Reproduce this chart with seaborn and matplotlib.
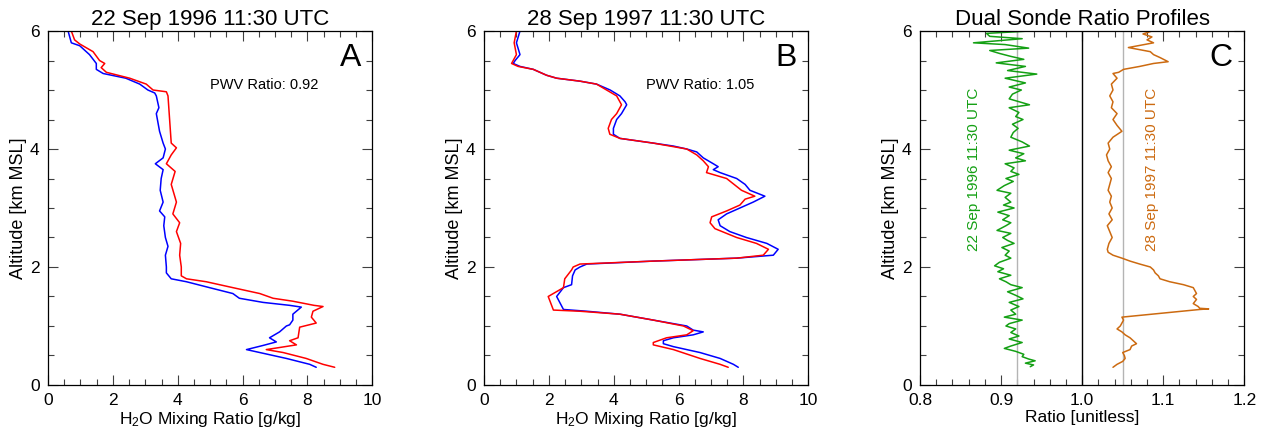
import numpy as np
import pandas as pd
import matplotlib
matplotlib.use('Agg')
import matplotlib.pyplot as plt
from matplotlib.ticker import MultipleLocator, FormatStrFormatter
import seaborn as sns

# ---- data ----
# Panel A: 22 Sep 1996
a_blue_alt = [6.00, 5.80, 5.75, 5.60, 5.45, 5.35, 5.28, 5.20, 5.10, 5.00, 4.95, 4.90, 4.70, 4.60,
              4.30, 4.10, 4.00, 3.85, 3.75, 3.65, 3.50, 3.30, 3.10, 2.95, 2.85, 2.70, 2.50, 2.35,
              2.20, 2.00, 1.90, 1.80, 1.75, 1.65, 1.55, 1.47, 1.40, 1.35, 1.32, 1.20, 1.10, 1.02,
              1.00, 0.90, 0.80, 0.73, 0.67, 0.60, 0.55, 0.45, 0.35, 0.30]
a_blue_h2o = [0.62, 0.72, 0.98, 1.28, 1.49, 1.49, 1.70, 2.40, 2.83, 3.08, 3.29, 3.34, 3.42, 3.34,
              3.44, 3.55, 3.62, 3.55, 3.31, 3.55, 3.49, 3.46, 3.55, 3.44, 3.60, 3.57, 3.62, 3.70,
              3.62, 3.65, 3.65, 3.80, 4.27, 4.98, 5.70, 5.90, 6.63, 7.45, 7.81, 7.55, 7.55, 7.45,
              7.35, 7.14, 6.83, 7.04, 6.63, 6.12, 6.53, 7.35, 8.07, 8.27]
a_red_alt = [6.00, 5.85, 5.78, 5.65, 5.50, 5.45, 5.38, 5.30, 5.20, 5.10, 5.00, 4.97, 4.90, 4.50,
             4.10, 4.02, 3.90, 3.75, 3.62, 3.40, 3.10, 2.90, 2.75, 2.60, 2.40, 2.20, 2.00, 1.85,
             1.80, 1.75, 1.65, 1.55, 1.47, 1.42, 1.35, 1.33, 1.25, 1.15, 1.05, 0.98, 0.80, 0.75,
             0.68, 0.60, 0.55, 0.45, 0.35, 0.30]
a_red_h2o = [0.72, 0.82, 0.98, 1.39, 1.59, 1.75, 1.64, 1.80, 2.52, 3.03, 3.24, 3.65, 3.70, 3.75,
             3.80, 3.96, 3.80, 3.65, 3.92, 3.80, 3.96, 3.85, 4.06, 3.96, 4.09, 4.06, 4.11, 4.11,
             4.27, 4.88, 5.70, 6.53, 6.94, 7.55, 8.20, 8.48, 8.17, 8.12, 8.27, 7.76, 7.71, 7.45,
             7.66, 6.73, 7.25, 7.96, 8.48, 8.84]

# Panel B: 28 Sep 1997
b_blue_alt = [6.00, 5.80, 5.60, 5.50, 5.45, 5.40, 5.35, 5.25, 5.20, 5.15, 5.10, 5.05, 5.00, 4.90,
              4.80, 4.75, 4.60, 4.50, 4.35, 4.25, 4.18, 4.10, 4.05, 4.00, 3.95, 3.85, 3.75, 3.70,
              3.65, 3.60, 3.50, 3.40, 3.30, 3.20, 3.10, 3.00, 2.90, 2.80, 2.70, 2.60, 2.50, 2.40,
              2.30, 2.20, 2.15, 2.10, 2.05, 2.00, 1.95, 1.85, 1.70, 1.65, 1.50, 1.28, 1.25, 1.20,
              1.10, 1.00, 0.93, 0.90, 0.85, 0.80, 0.75, 0.70, 0.65, 0.55, 0.45, 0.35, 0.30]
b_blue_h2o = [1.11, 1.00, 1.11, 0.96, 0.90, 1.11, 1.52, 1.93, 2.24, 2.96, 3.47, 3.68, 3.89, 4.19,
              4.35, 4.40, 4.24, 4.09, 3.99, 3.99, 4.19, 5.22, 5.84, 6.25, 6.56, 6.76, 7.07, 7.22,
              7.07, 7.28, 7.79, 8.05, 8.20, 8.66, 8.30, 7.89, 7.48, 7.22, 7.28, 7.58, 8.09, 8.72,
              9.07, 8.92, 7.79, 5.22, 3.17, 2.96, 2.81, 2.73, 2.70, 2.45, 2.24, 2.45, 3.17, 4.19,
              5.22, 6.25, 6.45, 6.76, 6.45, 5.84, 5.53, 5.53, 5.84, 6.66, 7.28, 7.69, 7.84]
b_red_alt = [6.00, 5.80, 5.60, 5.45, 5.40, 5.35, 5.25, 5.20, 5.15, 5.10, 5.00, 4.90, 4.75, 4.60,
             4.50, 4.35, 4.25, 4.18, 4.10, 4.00, 3.90, 3.80, 3.70, 3.60, 3.50, 3.30, 3.20, 3.15,
             3.05, 2.95, 2.85, 2.75, 2.65, 2.50, 2.40, 2.30, 2.20, 2.15, 2.10, 2.05, 2.00, 1.95,
             1.80, 1.65, 1.50, 1.27, 1.25, 1.20, 1.10, 1.00, 0.92, 0.85, 0.80, 0.72, 0.68, 0.60,
             0.45, 0.35, 0.30]
b_red_h2o = [1.00, 0.93, 1.00, 0.85, 1.05, 1.52, 1.93, 2.24, 2.96, 3.47, 3.78, 4.09, 4.24, 4.09,
             3.93, 3.83, 3.88, 4.19, 5.22, 6.25, 6.56, 6.76, 6.92, 6.86, 7.48, 7.94, 8.35, 8.05,
             7.89, 7.48, 7.02, 6.97, 7.12, 7.79, 8.40, 8.77, 8.61, 7.79, 5.22, 2.96, 2.75, 2.70,
             2.49, 2.45, 1.98, 2.14, 2.96, 4.19, 5.22, 6.15, 6.45, 6.25, 5.63, 5.22, 5.22, 5.84,
             6.66, 7.28, 7.53]

# Panel C: ratio profiles
c_green_alt = [6.00, 5.96, 5.91, 5.87, 5.80, 5.77, 5.71, 5.67, 5.62, 5.57, 5.52, 5.46, 5.40, 5.33,
               5.27, 5.20, 5.12, 5.05, 5.00, 4.93, 4.85, 4.75, 4.70, 4.62, 4.55, 4.50, 4.42, 4.35,
               4.28, 4.20, 4.12, 4.05, 3.98, 3.92, 3.85, 3.80, 3.75, 3.68, 3.62, 3.57, 3.50, 3.45,
               3.38, 3.30, 3.25, 3.18, 3.10, 3.05, 3.00, 2.93, 2.87, 2.80, 2.75, 2.70, 2.62, 2.57,
               2.50, 2.45, 2.40, 2.33, 2.27, 2.20, 2.15, 2.08, 2.02, 1.97, 1.92, 1.86, 1.80, 1.75,
               1.70, 1.65, 1.58, 1.52, 1.46, 1.40, 1.33, 1.27, 1.20, 1.15, 1.10, 1.04, 1.00, 0.95,
               0.89, 0.83, 0.78, 0.72, 0.66, 0.62, 0.57, 0.52, 0.48, 0.44, 0.41, 0.37, 0.34, 0.31]
c_green_ratio = [0.935, 0.882, 0.886, 0.926, 0.866, 0.905, 0.934, 0.886, 0.898, 0.912, 0.928,
                 0.894, 0.930, 0.908, 0.944, 0.905, 0.930, 0.910, 0.925, 0.914, 0.910, 0.935,
                 0.910, 0.922, 0.918, 0.927, 0.914, 0.921, 0.915, 0.912, 0.926, 0.935, 0.910,
                 0.928, 0.918, 0.930, 0.905, 0.916, 0.912, 0.922, 0.906, 0.915, 0.904, 0.895,
                 0.912, 0.905, 0.912, 0.903, 0.916, 0.896, 0.910, 0.902, 0.912, 0.906, 0.895,
                 0.912, 0.902, 0.908, 0.916, 0.901, 0.910, 0.905, 0.912, 0.898, 0.892, 0.903,
                 0.896, 0.912, 0.898, 0.906, 0.912, 0.926, 0.908, 0.918, 0.927, 0.910, 0.922,
                 0.912, 0.918, 0.904, 0.926, 0.910, 0.906, 0.918, 0.912, 0.922, 0.910, 0.926,
                 0.912, 0.904, 0.918, 0.928, 0.926, 0.934, 0.942, 0.930, 0.940, 0.936]
c_orange_alt = [6.00, 5.95, 5.90, 5.85, 5.80, 5.72, 5.65, 5.60, 5.55, 5.48, 5.45, 5.40, 5.35, 5.30,
                5.28, 5.20, 5.10, 5.00, 4.90, 4.80, 4.70, 4.60, 4.50, 4.40, 4.30, 4.20, 4.10, 4.00,
                3.90, 3.80, 3.70, 3.60, 3.50, 3.40, 3.30, 3.20, 3.10, 3.00, 2.90, 2.80, 2.70, 2.60,
                2.50, 2.40, 2.30, 2.25, 2.20, 2.15, 2.10, 2.05, 2.00, 1.95, 1.90, 1.85, 1.80, 1.75,
                1.70, 1.65, 1.60, 1.55, 1.50, 1.45, 1.38, 1.33, 1.30, 1.29, 1.28, 1.15, 1.10, 1.00,
                0.95, 0.90, 0.85, 0.80, 0.75, 0.70, 0.66, 0.60, 0.55, 0.50, 0.45, 0.40, 0.35, 0.30]
c_orange_ratio = [1.086, 1.075, 1.086, 1.080, 1.088, 1.057, 1.084, 1.088, 1.096, 1.106, 1.088,
                  1.071, 1.051, 1.045, 1.038, 1.043, 1.036, 1.038, 1.034, 1.038, 1.036, 1.043,
                  1.038, 1.043, 1.049, 1.038, 1.032, 1.034, 1.030, 1.032, 1.036, 1.032, 1.036,
                  1.034, 1.032, 1.036, 1.034, 1.037, 1.033, 1.037, 1.031, 1.034, 1.037, 1.033,
                  1.031, 1.032, 1.038, 1.049, 1.059, 1.071, 1.084, 1.088, 1.090, 1.094, 1.096,
                  1.108, 1.125, 1.137, 1.139, 1.141, 1.137, 1.141, 1.137, 1.143, 1.145, 1.156,
                  1.145, 1.049, 1.051, 1.047, 1.043, 1.049, 1.053, 1.059, 1.063, 1.067, 1.061,
                  1.059, 1.050, 1.052, 1.053, 1.050, 1.043, 1.038]

titles = ['22 Sep 1996 11:30 UTC', '28 Sep 1997 11:30 UTC', 'Dual Sonde Ratio Profiles']
letters = ['A', 'B', 'C']
pwv_ratios = [0.92, 1.05]

# ---- style ----
sns.set_style('ticks')
plt.rcParams['font.family'] = ['Liberation Sans', 'DejaVu Sans']
plt.rcParams['mathtext.fontset'] = 'custom'
plt.rcParams['mathtext.rm'] = 'Liberation Sans'
plt.rcParams['mathtext.it'] = 'Liberation Sans:italic'
plt.rcParams['text.color'] = 'black'
plt.rcParams['axes.labelcolor'] = 'black'
plt.rcParams['xtick.labelcolor'] = 'black'
plt.rcParams['ytick.labelcolor'] = 'black'

fig = plt.figure(figsize=(12.66, 4.29), dpi=100)
lefts = [0.0379, 0.3823, 0.7267]
axes = [fig.add_axes([l, 0.1026, 0.2562, 0.8251]) for l in lefts]


def style_axis(ax, xlim, xmajor, xminor, xfmt=None):
    ax.set_xlim(*xlim)
    ax.set_ylim(0, 6)
    ax.xaxis.set_major_locator(MultipleLocator(xmajor))
    ax.xaxis.set_minor_locator(MultipleLocator(xminor))
    ax.yaxis.set_major_locator(MultipleLocator(2))
    ax.yaxis.set_minor_locator(MultipleLocator(0.5))
    if xfmt:
        ax.xaxis.set_major_formatter(FormatStrFormatter(xfmt))
    ax.tick_params(which='both', direction='in', top=True, right=True,
                   color='#404040', labelcolor='black', width=0.8, labelsize=12.5)
    ax.tick_params(which='major', length=7, pad=6)
    ax.tick_params(which='minor', length=4)
    for sp in ax.spines.values():
        sp.set_linewidth(0.9)
        sp.set_color('black')
    ax.set_ylabel('Altitude [km MSL]', fontsize=13, labelpad=2)


profiles = [(a_blue_alt, a_blue_h2o, a_red_alt, a_red_h2o),
            (b_blue_alt, b_blue_h2o, b_red_alt, b_red_h2o)]

for i, (ba, bh, ra, rh) in enumerate(profiles):
    ax = axes[i]
    df_b = pd.DataFrame({'alt': ba, 'h2o': bh})
    df_r = pd.DataFrame({'alt': ra, 'h2o': rh})
    sns.lineplot(data=df_b, x='h2o', y='alt', sort=False, estimator=None,
                 color='#0000ff', linewidth=1.1, ax=ax)
    sns.lineplot(data=df_r, x='h2o', y='alt', sort=False, estimator=None,
                 color='#ff0000', linewidth=1.1, ax=ax)
    style_axis(ax, (0, 10), 2, 0.5)
    ax.set_xlabel('H$_2$O Mixing Ratio [g/kg]', fontsize=12.5, labelpad=1)
    ax.set_title(titles[i], fontsize=16, pad=4)
    ax.text(5.0, 5.08, f'PWV Ratio: {pwv_ratios[i]:.2f}', fontsize=10.5, va='center', ha='left')
    ax.text(0.965, 0.965, letters[i], transform=ax.transAxes, fontsize=23,
            ha='right', va='top')

ax = axes[2]
ax.axvline(1.0, color='black', linewidth=1.0)
ax.axvline(pwv_ratios[0], color='#b4b4b4', linewidth=1.0)
ax.axvline(pwv_ratios[1], color='#b4b4b4', linewidth=1.0)
df_g = pd.DataFrame({'alt': c_green_alt, 'ratio': c_green_ratio})
df_o = pd.DataFrame({'alt': c_orange_alt, 'ratio': c_orange_ratio})
sns.lineplot(data=df_g, x='ratio', y='alt', sort=False, estimator=None,
             color='#14a014', linewidth=1.1, ax=ax)
sns.lineplot(data=df_o, x='ratio', y='alt', sort=False, estimator=None,
             color='#cc6a10', linewidth=1.1, ax=ax)
style_axis(ax, (0.8, 1.2), 0.1, 0.02, '%.1f')
ax.set_xlabel('Ratio [unitless]', fontsize=12.5, labelpad=1)
ax.set_title(titles[2], fontsize=16, pad=4)
ax.text(0.965, 0.965, letters[2], transform=ax.transAxes, fontsize=23, ha='right', va='top')
ax.text(0.866, 3.65, titles[0], rotation=90, color='#14a014', fontsize=11,
        ha='center', va='center')
ax.text(1.086, 3.65, titles[1], rotation=90, color='#cc6a10', fontsize=11,
        ha='center', va='center')

fig.savefig('out.png', dpi=100)
plt.close(fig)
